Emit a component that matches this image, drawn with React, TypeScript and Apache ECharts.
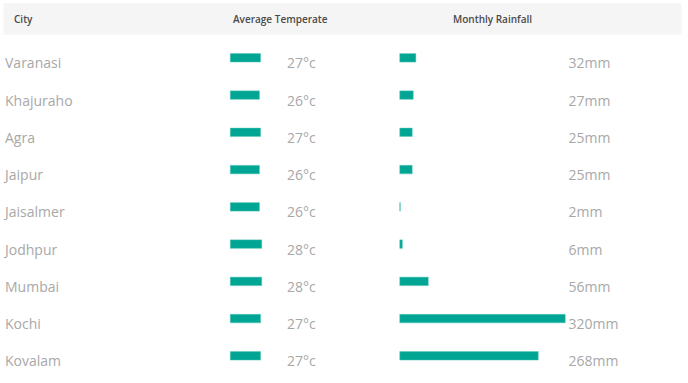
import React, { useEffect, useRef } from "react";
import * as echarts from "echarts";

const cities = ["Varanasi", "Khajuraho", "Agra", "Jaipur", "Jaisalmer", "Jodhpur", "Mumbai", "Kochi", "Kovalam"];
const temperatures = [27, 26, 27, 26, 26, 28, 28, 27, 27];
const rainfall = [32, 27, 25, 25, 2, 6, 56, 320, 268];
const headers = ["City", "Average Temperate", "Monthly Rainfall"];

const TEAL = "#00a693";
const FONT = "'Open Sans', sans-serif";

export default function App() {
  const ref = useRef<HTMLDivElement>(null);
  useEffect(() => {
    if (!ref.current) return;
    const chart = echarts.init(ref.current, null, { renderer: "svg" });
    const gridTop = 39.2;
    const gridBottom = 8.5;
    const labelStyle = {
      color: "#a8a8a8",
      fontFamily: FONT,
      fontSize: 14,
      fontWeight: 400,
      verticalAlign: "top",
      lineHeight: 10,
    };
    const hiddenValueAxis = (gridIndex: number, max: number) => ({
      type: "value",
      gridIndex,
      min: 0,
      max,
      show: false,
    });
    const catAxis = (gridIndex: number, position: string, formatter: any, margin: number, align: string) => ({
      type: "category",
      gridIndex,
      position,
      inverse: true,
      data: cities,
      axisLine: { show: false },
      axisTick: { show: false },
      splitLine: { show: false },
      axisLabel: { ...labelStyle, margin, align, formatter },
    });
    chart.setOption({
      animation: false,
      graphic: [
        {
          type: "rect",
          shape: { x: 3.5, y: 3.3, width: 678, height: 31.4 },
          style: { fill: "#f5f5f5" },
          silent: true,
        },
        ...headers.map((h, i) => ({
          type: "text",
          x: [14, 233, 453][i],
          y: 19,
          style: {
            text: h,
            fill: "#4a4a4a",
            font: `600 10px ${FONT}`,
            verticalAlign: "middle",
          },
          silent: true,
        })),
      ],
      grid: [
        { left: 230, width: 52, top: gridTop, bottom: gridBottom },
        { left: 399.5, width: 166, top: gridTop, bottom: gridBottom },
      ],
      xAxis: [hiddenValueAxis(0, 45.5), hiddenValueAxis(1, 320)],
      yAxis: [
        catAxis(0, "left", (v: string) => v, 225, "left"),
        catAxis(0, "right", (_v: string, i: number) => `${temperatures[i]}°c`, 5, "left"),
        catAxis(1, "left", () => "", 0, "right"),
        catAxis(1, "right", (_v: string, i: number) => `${rainfall[i]}mm`, 3, "left"),
      ],
      series: [
        {
          type: "bar",
          xAxisIndex: 0,
          yAxisIndex: 0,
          data: temperatures,
          barWidth: 9,
          itemStyle: { color: TEAL, borderColor: "#5cc8bb", borderWidth: 0.5 },
        },
        {
          type: "bar",
          xAxisIndex: 1,
          yAxisIndex: 2,
          data: rainfall,
          barWidth: 9,
          itemStyle: { color: TEAL, borderColor: "#5cc8bb", borderWidth: 0.5 },
        },
      ],
    });
    return () => chart.dispose();
  }, []);
  return <div ref={ref} style={{ width: 688, height: 383, position: "absolute", left: 0, top: 0 }} />;
}
